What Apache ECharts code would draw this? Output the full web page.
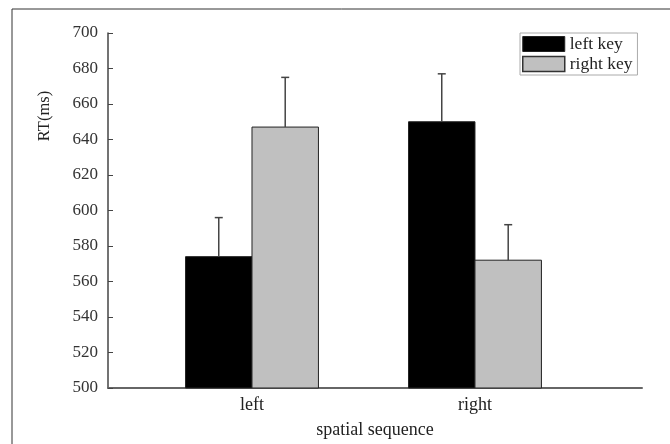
<!DOCTYPE html>
<html>
<head>
<meta charset="utf-8">
<script src="https://cdn.jsdelivr.net/npm/echarts@6/dist/echarts.min.js"></script>
<style>html,body{margin:0;padding:0;background:#fff}#c{width:670px;height:444px}</style>
</head>
<body>
<div id="c"></div>
<script>
var categories = ['left', 'right'];
var seriesNames = ['left key', 'right key'];
var leftKeyMeans = [574, 650];
var rightKeyMeans = [647, 572];
var leftKeyErrTop = [596, 677];
var rightKeyErrTop = [675, 592];
var yTicks = [500, 520, 540, 560, 580, 600, 620, 640, 660, 680, 700];

var colors = ['#000000', '#c0c0c0'];
var FONT = '"Liberation Serif", "DejaVu Serif", serif';
var BW = 0.298;

function makeData(means, errs) {
  return means.map(function (m, i) { return [i + 1, m, errs[i]]; });
}

function renderer(side) {
  return function (params, api) {
    var xc = api.value(0), v = api.value(1), e = api.value(2);
    var x0 = side === 0 ? xc - BW : xc;
    var x1 = side === 0 ? xc : xc + BW;
    var pTop = api.coord([x0, v]);
    var pBot = api.coord([x1, 500]);
    var mid = api.coord([(x0 + x1) / 2, v]);
    var pErr = api.coord([(x0 + x1) / 2, e]);
    return {
      type: 'group',
      children: [
        { type: 'rect', shape: { x: pTop[0], y: pTop[1], width: pBot[0] - pTop[0], height: pBot[1] - pTop[1] },
          style: { fill: colors[side], stroke: '#222', lineWidth: 1 } },
        { type: 'line', shape: { x1: mid[0], y1: mid[1], x2: pErr[0], y2: pErr[1] },
          style: { stroke: '#444', lineWidth: 1.5 } },
        { type: 'line', shape: { x1: pErr[0] - 4, y1: pErr[1], x2: pErr[0] + 4, y2: pErr[1] },
          style: { stroke: '#444', lineWidth: 1.5 } }
      ]
    };
  };
}

var chart = echarts.init(document.getElementById('c'), null, { renderer: 'canvas' });
chart.setOption({
  animation: false,
  backgroundColor: '#fff',
  graphic: [
    { type: 'rect', shape: { x: 12, y: 9, width: 700, height: 500 }, style: { fill: null, stroke: '#333', lineWidth: 1 }, z: 100 },
    { type: 'text', x: 45, y: 116, rotation: Math.PI / 2, style: { text: 'RT(ms)', font: '16.5px ' + FONT, fill: '#222', align: 'center', verticalAlign: 'middle' } }
  ],
  legend: {
    orient: 'vertical', left: 520, top: 33,
    itemWidth: 42, itemHeight: 15, itemGap: 2,
    padding: [2, 5, 2, 2],
    borderColor: '#aaa', borderWidth: 1,
    textStyle: { fontFamily: FONT, fontSize: 17.5, color: '#222', lineHeight: 18 },
    data: [
      { name: seriesNames[0], icon: 'rect', itemStyle: { color: colors[0], borderColor: '#222', borderWidth: 1 } },
      { name: seriesNames[1], icon: 'rect', itemStyle: { color: colors[1], borderColor: '#333', borderWidth: 1.5 } }
    ]
  },
  grid: { left: 108, right: 28, top: 33, bottom: 54 },
  xAxis: {
    type: 'value',
    min: 0.3543, max: 2.749,
    splitLine: { show: false },
    axisTick: { show: false },
    axisLine: { show: true, lineStyle: { color: '#666', width: 2 } },
    axisLabel: {
      customValues: [1, 2],
      formatter: function (v) { return categories[Math.round(v) - 1] || ''; },
      fontFamily: FONT, fontSize: 18, color: '#222', margin: 8
    },
    name: 'spatial sequence', nameLocation: 'middle', nameGap: 33,
    nameTextStyle: { fontFamily: FONT, fontSize: 18, color: '#222' }
  },
  yAxis: {
    type: 'value', min: 500, max: 700, interval: 20,
    splitLine: { show: false },
    axisLine: { show: true, lineStyle: { color: '#444', width: 1.5 } },
    axisTick: { show: true, inside: true, length: 5, lineStyle: { color: '#444', width: 1 } },
    axisLabel: {
      fontFamily: FONT, fontSize: 17, color: '#333', margin: 10,
      formatter: function (v) { return yTicks.indexOf(v) >= 0 ? String(v) : ''; }
    }
  },
  series: [
    { name: seriesNames[0], type: 'custom', renderItem: renderer(0), data: makeData(leftKeyMeans, leftKeyErrTop), itemStyle: { color: colors[0] }, encode: { x: 0, y: [1, 2] } },
    { name: seriesNames[1], type: 'custom', renderItem: renderer(1), data: makeData(rightKeyMeans, rightKeyErrTop), itemStyle: { color: colors[1] }, encode: { x: 0, y: [1, 2] } }
  ]
});
</script>
</body>
</html>
